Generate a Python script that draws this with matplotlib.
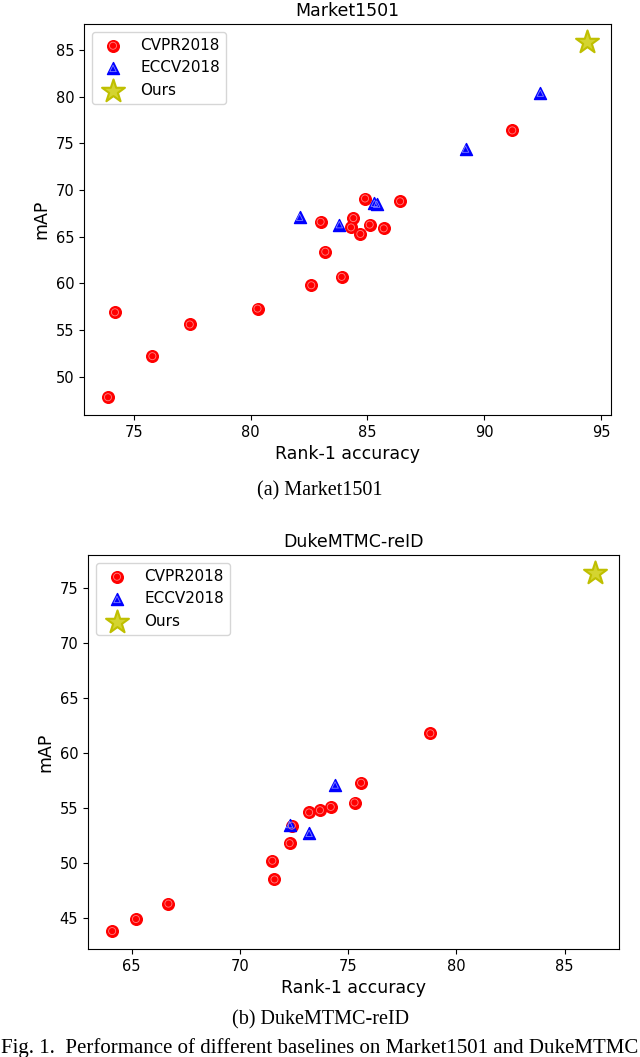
import matplotlib
matplotlib.use('Agg')
import matplotlib.pyplot as plt

## Market1501 (rank-1, mAP)
m_cvpr_r1 = [73.9, 74.2, 75.8, 77.4, 80.3, 82.6, 83.9, 83.2, 83.0, 84.3, 84.4, 84.7, 85.1, 85.7, 84.9, 86.4, 91.2]
m_cvpr_map = [47.8, 56.9, 52.2, 55.6, 57.3, 59.8, 60.7, 63.4, 66.6, 66.0, 67.0, 65.3, 66.3, 65.9, 69.1, 68.8, 76.4]
m_eccv_r1 = [82.1, 83.8, 85.3, 85.4, 89.2, 92.4]
m_eccv_map = [67.1, 66.3, 68.6, 68.5, 74.4, 80.4]
m_ours_r1 = [94.4]
m_ours_map = [85.9]

## DukeMTMC-reID
d_cvpr_r1 = [64.1, 65.2, 66.7, 71.5, 71.6, 72.3, 72.4, 73.2, 73.7, 74.2, 75.3, 75.6, 78.8]
d_cvpr_map = [43.8, 44.9, 46.3, 50.2, 48.5, 51.8, 53.4, 54.6, 54.8, 55.1, 55.5, 57.3, 61.8]
d_eccv_r1 = [72.3, 73.2, 74.4]
d_eccv_map = [53.5, 52.7, 57.1]
d_ours_r1 = [86.4]
d_ours_map = [76.4]

names = ['CVPR2018', 'ECCV2018', 'Ours']


def draw(ax, title, cvpr, eccv, ours):
    h1 = ax.scatter(cvpr[0], cvpr[1], s=70, marker='o', color='#ff0000', zorder=3)
    r1 = ax.scatter(cvpr[0], cvpr[1], s=26, marker='o', facecolor='none',
                    edgecolor='#ff8080', linewidths=0.6, zorder=4)
    h2 = ax.scatter(eccv[0], eccv[1], s=75, marker='^', color='#0000ff', zorder=3)
    r2 = ax.scatter(eccv[0], eccv[1], s=22, marker='^', facecolor='none',
                    edgecolor='#8080ff', linewidths=0.6, zorder=4)
    h3 = ax.scatter(ours[0], ours[1], s=300, marker='*', facecolor='#d4d430',
                    edgecolor='#bfbf00', linewidths=1.5, zorder=3)
    ax.legend([(h1, r1), (h2, r2), h3], names, loc='upper left', fontsize=11,
              scatterpoints=1)
    ax.set_title(title, fontsize=12.5)
    ax.set_xlabel('Rank-1 accuracy', fontsize=12.5)
    ax.set_ylabel('mAP', fontsize=12.5)
    ax.tick_params(labelsize=10.5)


fig = plt.figure(figsize=(6.4, 10.57), dpi=100)
H = 1057.0
ax1 = fig.add_axes([84/640, 1-415/H, (611-84)/640, (415-24)/H])
ax2 = fig.add_axes([88/640, 1-949/H, (619-88)/640, (949-555)/H])

draw(ax1, 'Market1501', (m_cvpr_r1, m_cvpr_map), (m_eccv_r1, m_eccv_map), (m_ours_r1, m_ours_map))
draw(ax2, 'DukeMTMC-reID', (d_cvpr_r1, d_cvpr_map), (d_eccv_r1, d_eccv_map), (d_ours_r1, d_ours_map))

serif = ['Liberation Serif', 'DejaVu Serif']
fig.text(0.5, 1-491/H, '(a) Market1501', ha='center', va='center', fontsize=14.5, family=serif)
fig.text(0.5, 1-1020/H, '(b) DukeMTMC-reID', ha='center', va='center', fontsize=14.5, family=serif)
fig.text(0.5, 1-1048/H, 'Fig. 1.  Performance of different baselines on Market1501 and DukeMTMC',
         ha='center', va='center', fontsize=15, family=serif)

fig.savefig('out.png', dpi=100)
